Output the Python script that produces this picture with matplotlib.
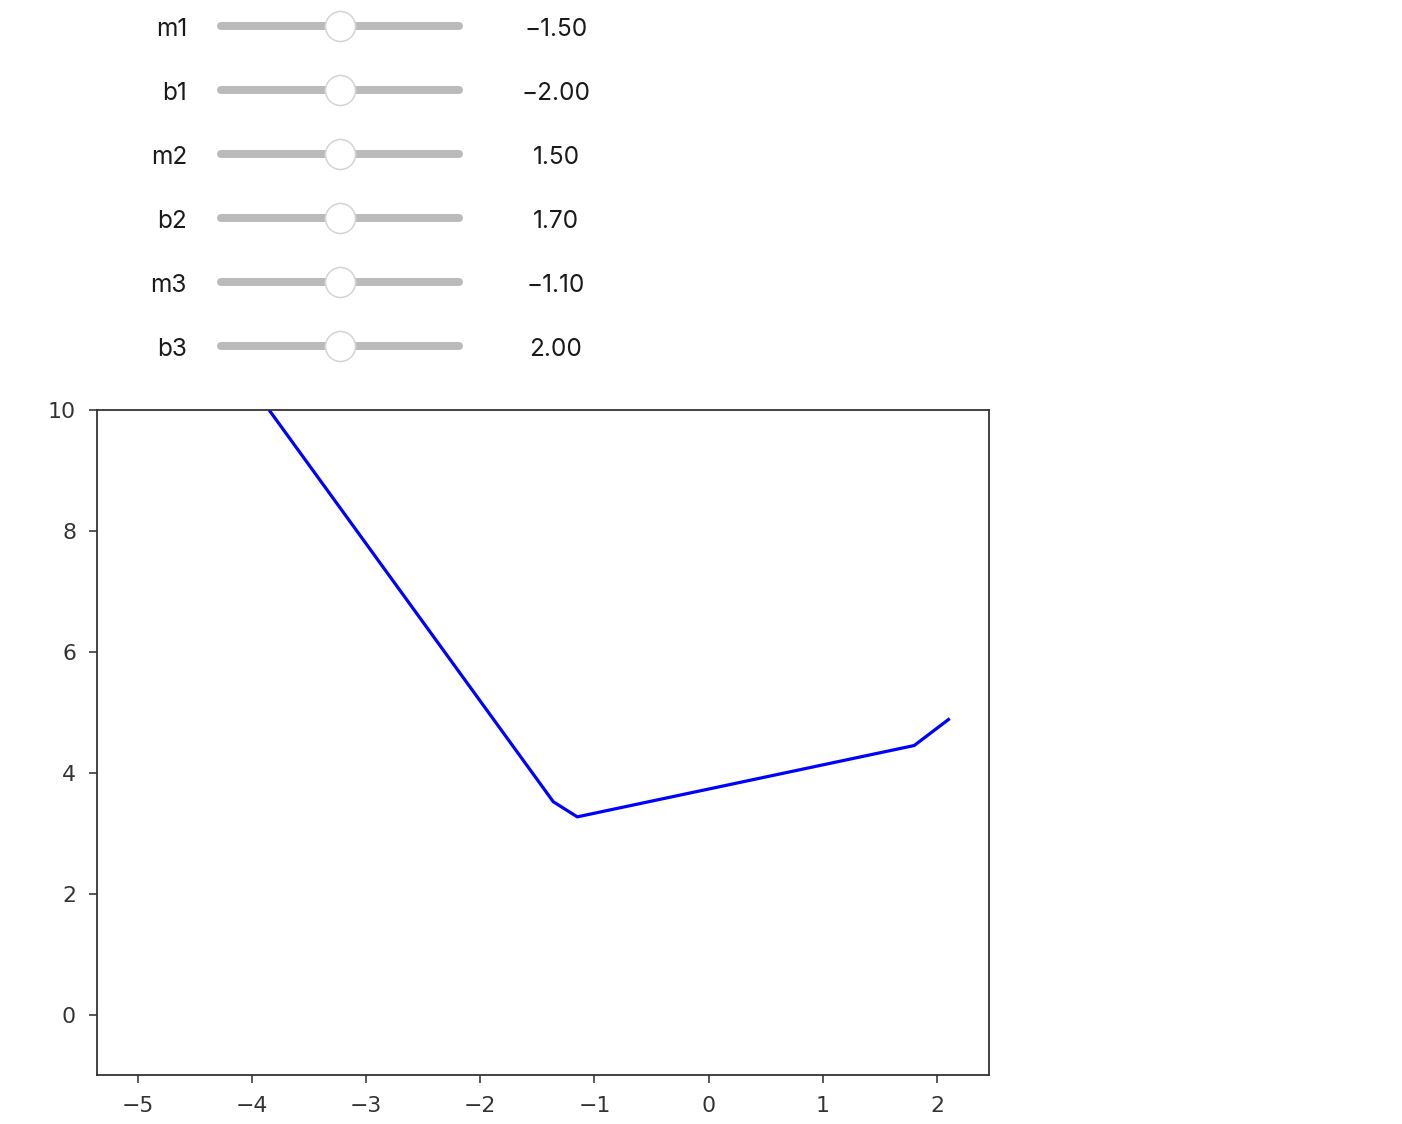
import matplotlib.pyplot as plt

plt.rcParams['font.family'] = 'DejaVu Sans'

# slider panel values
slider_names = ['m1', 'b1', 'm2', 'b2', 'm3', 'b3']
slider_values = [-1.50, -2.00, 1.50, 1.70, -1.10, 2.00]
handle_frac = [0.5, 0.5, 0.5, 0.5, 0.5, 0.5]  # handle position along the track

# curve breakpoints
x_pts = [-5.0, -1.36, -1.15, 1.80, 2.10]
y_pts = [13.0, 3.52, 3.27, 4.45, 4.88]

W, H, DPI = 1402, 1124, 144
fig = plt.figure(figsize=(W / DPI, H / DPI), dpi=DPI)

# main plot
ax = fig.add_axes([97 / W, 1 - 1075 / H, (989 - 97) / W, (1075 - 410) / H])
ax.plot(x_pts, y_pts, color='blue', lw=1.6)
ax.set_ylim(-1, 10)
for s in ax.spines.values():
    s.set_color('#333333')
    s.set_linewidth(0.9)
ax.tick_params(colors='#333333', labelcolor='#333333', labelsize=11,
               length=4, pad=6.5)

# slider panel drawn in pixel coordinates
sax = fig.add_axes([0, 0, 1, 1])
sax.set_xlim(0, W)
sax.set_ylim(H, 0)
sax.axis('off')
x0, x1 = 221, 459
for i, (name, val) in enumerate(zip(slider_names, slider_values)):
    yc = 26 + 64 * i
    sax.plot([x0, x1], [yc, yc], color='#bbbbbb', lw=4, solid_capstyle='round')
    hx = x0 + handle_frac[i] * (x1 - x0)
    sax.plot([hx], [yc], 'o', ms=15, mfc='white', mec='#d6d6d6', mew=0.8)
    sax.text(187, yc + 10, name, ha='right', va='baseline', fontsize=12.2,
             family='Inter', color='#1a1a1a')
    sax.text(556, yc + 10, f'{val:.2f}'.replace('-', '\u2212'), ha='center',
             va='baseline', fontsize=12.2, family='Inter', color='#1a1a1a')

fig.savefig('out.png', dpi=DPI)
